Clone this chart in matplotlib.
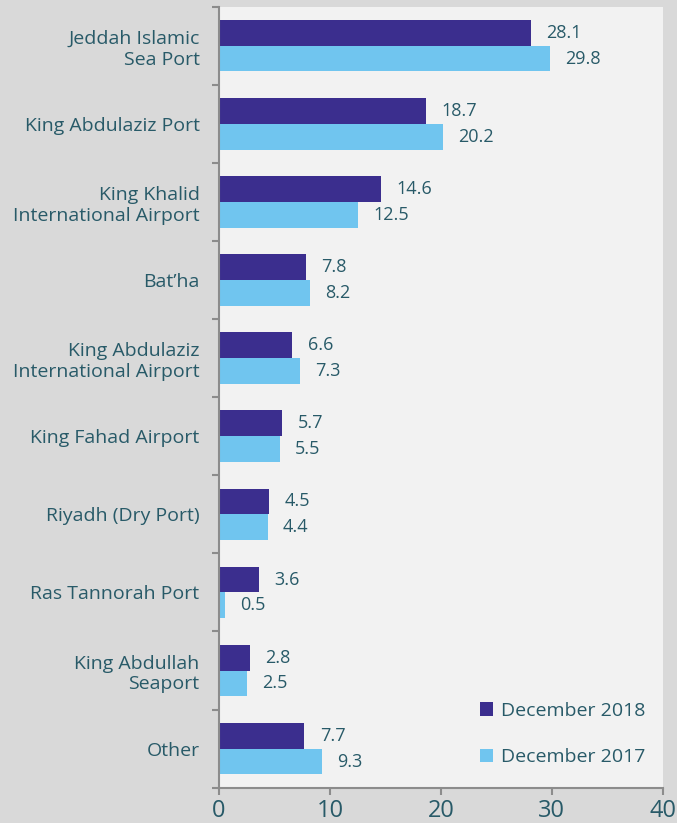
import matplotlib
matplotlib.use("Agg")
import matplotlib.pyplot as plt
import numpy as np
from matplotlib.ticker import FixedLocator

plt.rcParams['font.family'] = ['Open Sans', 'DejaVu Sans']

categories = ["Jeddah Islamic\nSea Port", "King Abdulaziz Port", "King Khalid\nInternational Airport",
              "Bat’ha", "King Abdulaziz\nInternational Airport", "King Fahad Airport",
              "Riyadh (Dry Port)", "Ras Tannorah Port", "King Abdullah\nSeaport", "Other"]
dec2018 = [28.1, 18.7, 14.6, 7.8, 6.6, 5.7, 4.5, 3.6, 2.8, 7.7]
dec2017 = [29.8, 20.2, 12.5, 8.2, 7.3, 5.5, 4.4, 0.5, 2.5, 9.3]
series_names = ["December 2018", "December 2017"]
xticks = [0, 10, 20, 30, 40]

c_dark = "#3b2e8e"
c_light = "#70c5ef"
c_text = "#285a68"
c_spine = "#8c8c8c"

fig = plt.figure(figsize=(6.77, 8.23), dpi=100, facecolor="#d9d9d9")
ax = fig.add_axes([0.3235, 0.0429, 0.979 - 0.3235, 0.9919 - 0.0429])
ax.set_facecolor("#f2f2f2")

y = np.arange(len(categories))
h = 0.33
b1 = ax.barh(y - h / 2, dec2018, height=h, color=c_dark, label=series_names[0])
b2 = ax.barh(y + h / 2, dec2017, height=h, color=c_light, label=series_names[1])

for bars, vals in ((b1, dec2018), (b2, dec2017)):
    for bar, v in zip(bars, vals):
        ax.annotate(f"{v:.1f}", xy=(bar.get_width(), bar.get_y() + bar.get_height() / 2),
                    xytext=(11, 0), textcoords="offset points", va="center", ha="left",
                    fontsize=13, color=c_text)

ax.set_xlim(0, 40)
ax.set_ylim(len(categories) - 0.5, -0.5)
ax.set_xticks(xticks)
ax.set_xticklabels([str(t) for t in xticks], fontsize=17, color=c_text)
ax.set_yticks(y)
ax.set_yticklabels(categories, fontsize=14, color=c_text, linespacing=1.2)
ax.tick_params(axis="y", which="major", length=0, pad=14)
ax.yaxis.set_minor_locator(FixedLocator(np.arange(-0.5, len(categories) + 0.5, 1)))
ax.tick_params(axis="y", which="minor", length=5, width=1.5, color=c_spine, direction="out")
ax.tick_params(axis="x", which="major", length=5, width=1.5, color=c_spine, pad=3)

for s in ("top", "right"):
    ax.spines[s].set_visible(False)
for s in ("left", "bottom"):
    ax.spines[s].set_color(c_spine)
    ax.spines[s].set_linewidth(1.5)

leg = ax.legend(loc="lower right", frameon=False, fontsize=14, labelcolor=c_text,
                handlelength=0.7, handleheight=0.7, handletextpad=0.4, labelspacing=1.45,
                bbox_to_anchor=(1.0, 0.005))

fig.savefig("out.png", dpi=100, facecolor=fig.get_facecolor())
